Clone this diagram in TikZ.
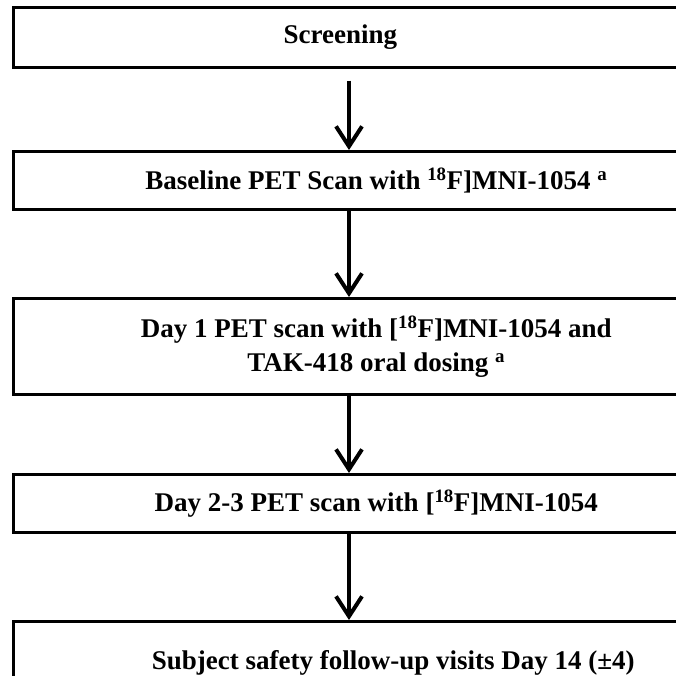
\documentclass[tikz,border=0pt]{standalone}
\usepackage{fontspec}
\setmainfont{Liberation Serif}
\usetikzlibrary{positioning,arrows.meta}

\begin{document}
\begin{tikzpicture}[
  x=1pt, y=-1pt,
  font=\bfseries\fontsize{27}{34}\selectfont,
  stage/.style={rectangle, draw=black, line width=2.6pt, minimum width=726pt,
                inner sep=0pt, fill=white, align=center, anchor=north west},
  flow/.style={-{Straight Barb[length=20pt,width=26pt]}, line width=4pt}
]
\useasboundingbox (0,0) rectangle (676,676);
\clip (0,0) rectangle (676,676);
\coordinate (axis) at (349,0);

\node[stage, minimum height=60pt] (scr)  at (12,6)   {\hspace*{-72pt}Screening};
\node[stage, minimum height=58pt] (base) at (12,150) {Baseline PET Scan with \textsuperscript{18}F]MNI-1054 \textsuperscript{a}};
\node[stage, minimum height=96pt] (day1) at (12,297) {Day 1 PET scan with [\textsuperscript{18}F]MNI-1054 and \\ TAK-418 oral dosing \textsuperscript{a}};
\node[stage, minimum height=58pt] (day2) at (12,473) {Day 2-3 PET scan with [\textsuperscript{18}F]MNI-1054};
\node[stage, minimum height=84pt] (fup)  at (12,620) {\hspace*{34pt}Subject safety follow-up visits Day 14 (±4)};

\draw[flow] ([yshift=-12pt]scr.south -| axis) -- (base.north -| axis);
\draw[flow] (base.south -| axis) -- (day1.north -| axis);
\draw[flow] (day1.south -| axis) -- (day2.north -| axis);
\draw[flow] (day2.south -| axis) -- (fup.north -| axis);
\end{tikzpicture}
\end{document}
